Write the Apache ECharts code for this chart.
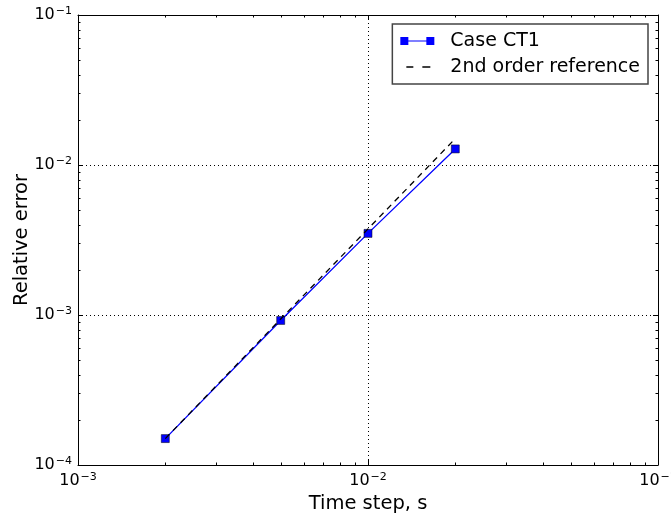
<!DOCTYPE html>
<html><head><meta charset="utf-8">
<script src="https://cdn.jsdelivr.net/npm/echarts@6/dist/echarts.min.js"></script>
<style>html,body{margin:0;padding:0;background:#fff}#c{width:671px;height:518px}</style>
</head><body><div id="c"></div>
<script>
// ---- data ----
var timeSteps = [0.002, 0.005, 0.01, 0.02];
var caseCT1 = [1.5e-4, 9.2e-4, 3.5e-3, 1.28e-2];
var refOrder2 = [1.5e-4, 9.4e-4, 3.75e-3, 1.5e-2];
var xTickLabels = ['10^-3', '10^-2', '10^-1'];
var yTickLabels = ['10^-4', '10^-3', '10^-2', '10^-1'];
var seriesNames = ['Case CT1', '2nd order reference'];

var xMin = 1e-3, xMax = 1e-1, yMin = 1e-4, yMax = 1e-1;
var FONT = 'DejaVu Sans';

function minorTicks(lo, hi) {
  var out = [];
  for (var e = Math.round(Math.log10(lo)); e < Math.round(Math.log10(hi)); e++) {
    for (var m = 2; m <= 9; m++) out.push(m * Math.pow(10, e));
  }
  return out;
}
var xMinor = minorTicks(xMin, xMax);
var yMinor = minorTicks(yMin, yMax);

function fmt(v) {
  var e = Math.round(Math.log10(v));
  return '{b|10}{s|' + String(e).replace('-', '\u2212') + '}';
}
var rich = {
  b: {fontFamily: FONT, fontSize: 16, lineHeight: 18, color: '#000'},
  s: {fontFamily: FONT, fontSize: 11, lineHeight: 8, verticalAlign: 'top', color: '#000', padding: [0, 0, 0, 1]}
};

var TICK_MINOR = 2.5;
function renderMinorX(params, api) {
  var cs = params.coordSys;
  var x = Math.round(api.coord([api.value(0), 1e-3])[0]) + 0.5;
  var st = {stroke: '#000', lineWidth: 1};
  return {type: 'group', children: [
    {type: 'line', shape: {x1: x, y1: cs.y + cs.height, x2: x, y2: cs.y + cs.height - TICK_MINOR}, style: st},
    {type: 'line', shape: {x1: x, y1: cs.y, x2: x, y2: cs.y + TICK_MINOR}, style: st}
  ]};
}
function renderMinorY(params, api) {
  var cs = params.coordSys;
  var y = Math.round(api.coord([1e-2, api.value(1)])[1]) + 0.5;
  var st = {stroke: '#000', lineWidth: 1};
  return {type: 'group', children: [
    {type: 'line', shape: {x1: cs.x, y1: y, x2: cs.x + TICK_MINOR, y2: y}, style: st},
    {type: 'line', shape: {x1: cs.x + cs.width, y1: y, x2: cs.x + cs.width - TICK_MINOR, y2: y}, style: st}
  ]};
}

var axisLine = {show: true, onZero: false, lineStyle: {color: '#000', width: 1}};
var tick = {show: true, inside: true, length: 5, lineStyle: {color: '#000', width: 1}};
var split = {show: true, lineStyle: {color: '#000', width: 1, type: [1, 3]}};

var chart = echarts.init(document.getElementById('c'), null, {renderer: 'canvas'});
chart.setOption({
  animation: false,
  backgroundColor: '#fff',
  grid: {left: 78, right: 13, top: 15, bottom: 53, containLabel: false, outerBoundsMode: 'none'},
  xAxis: [
    {type: 'log', logBase: 10, min: xMin, max: xMax, position: 'bottom',
     name: 'Time step, s', nameLocation: 'middle', nameGap: 29, nameMoveOverlap: false,
     nameTextStyle: {fontFamily: FONT, fontSize: 19.5, color: '#000'},
     axisLine: axisLine, axisTick: tick, splitLine: split,
     axisLabel: {margin: 7, formatter: fmt, rich: rich, showMinLabel: true, showMaxLabel: true, hideOverlap: false}},
    {type: 'log', logBase: 10, min: xMin, max: xMax, position: 'top',
     axisLine: axisLine, axisTick: tick, splitLine: {show: false}, axisLabel: {show: false}}
  ],
  yAxis: [
    {type: 'log', logBase: 10, min: yMin, max: yMax, position: 'left',
     name: 'Relative error', nameLocation: 'middle', nameGap: 46, nameMoveOverlap: false,
     nameTextStyle: {fontFamily: FONT, fontSize: 19.5, color: '#000'},
     axisLine: axisLine, axisTick: tick, splitLine: split,
     axisLabel: {margin: 6, formatter: fmt, rich: rich, showMinLabel: true, showMaxLabel: true, hideOverlap: false}},
    {type: 'log', logBase: 10, min: yMin, max: yMax, position: 'right',
     axisLine: axisLine, axisTick: tick, splitLine: {show: false}, axisLabel: {show: false}}
  ],
  legend: {
    data: [
      {name: seriesNames[0], icon: 'path://M0,0h8v8h-8z M8,3.4h18v1.2h-18z M26,0h8v8h-8z', itemStyle: {borderWidth: 0, color: '#0000ff'}},
      {name: seriesNames[1], icon: 'path://M0,0h0.01v0.01h-0.01z M6,3.3h7v1.5h-7z M22,3.3h8v1.5h-8z M33.99,7.99h0.01v0.01h-0.01z', itemStyle: {borderWidth: 0, color: '#000'}}
    ],
    orient: 'vertical', right: 23, top: 24,
    itemWidth: 34, itemHeight: 8, itemGap: 6,
    symbolKeepAspect: false,
    padding: [7, 8, 7, 8],
    borderColor: '#444', borderWidth: 1.5, backgroundColor: '#fff',
    textStyle: {fontFamily: FONT, fontSize: 19, lineHeight: 20, color: '#000', padding: [0, 0, 0, 11]}
  },
  series: [
    {name: seriesNames[0], type: 'line', data: timeSteps.map(function (x, i) { return [x, caseCT1[i]]; }),
     symbol: 'rect', symbolSize: 8, showAllSymbol: true,
     lineStyle: {color: '#0000ff', width: 1.3},
     itemStyle: {color: '#0000ff', borderColor: '#000', borderWidth: 0.5},
     z: 3},
    {name: seriesNames[1], type: 'line', data: timeSteps.map(function (x, i) { return [x, refOrder2[i]]; }),
     symbol: 'none', lineStyle: {color: '#000', width: 1.3, type: [6, 5]},
     itemStyle: {color: '#000'}, z: 4},
    {type: 'custom', data: xMinor.map(function (v) { return [v, 1e-3]; }), renderItem: renderMinorX, silent: true, z: 5},
    {type: 'custom', data: yMinor.map(function (v) { return [1e-2, v]; }), renderItem: renderMinorY, silent: true, z: 5}
  ]
});
</script>
</body></html>
